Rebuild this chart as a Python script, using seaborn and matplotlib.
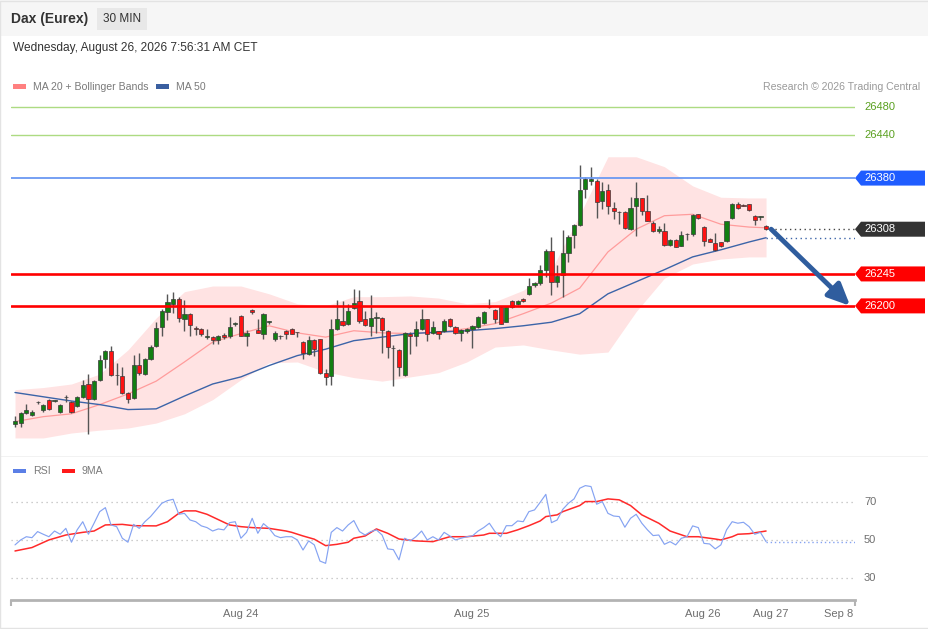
import numpy as np
import pandas as pd
import matplotlib
matplotlib.use("Agg")
import matplotlib.pyplot as plt
from matplotlib.patches import Rectangle, Polygon
import seaborn as sns

# 30 min candles, oldest first
opens = [26034, 26035, 26049, 26047, 26064, 26053, 26067, 26066, 26050, 26071,
         26065, 26059, 26072, 26090, 26069, 26095, 26125, 26136, 26102, 26101,
         26077, 26070, 26117, 26104, 26125, 26143, 26170, 26192, 26203, 26209,
         26182, 26188, 26169, 26167, 26156, 26156, 26152, 26159, 26158, 26175,
         26186, 26157, 26194, 26166, 26161, 26178, 26154, 26157, 26164, 26168,
         26163, 26149, 26132, 26152, 26153, 26105, 26101, 26167, 26179, 26174,
         26197, 26207, 26181, 26172, 26183, 26183, 26165, 26141, 26138, 26102,
         26161, 26158, 26167, 26181, 26162, 26164, 26164, 26182, 26170, 26162,
         26165, 26167, 26170, 26176, 26198, 26194, 26199, 26178, 26207, 26202,
         26210, 26217, 26229, 26232, 26251, 26278, 26234, 26243, 26274, 26300,
         26314, 26364, 26376, 26376, 26348, 26363, 26338, 26332, 26332, 26308,
         26340, 26352, 26333, 26317, 26305, 26306, 26286, 26293, 26285, 26301,
         26301, 26329, 26311, 26294, 26288, 26290, 26291, 26324, 26343, 26342,
         26343, 26327, 26325, 26313]
highs = [26045, 26050, 26062, 26053, 26066, 26062, 26069, 26067, 26062, 26074,
         26066, 26073, 26096, 26104, 26096, 26131, 26138, 26144, 26120, 26114,
         26079, 26131, 26134, 26126, 26145, 26177, 26195, 26217, 26220, 26212,
         26208, 26190, 26171, 26169, 26167, 26157, 26159, 26162, 26184, 26178,
         26187, 26166, 26196, 26181, 26190, 26179, 26164, 26159, 26166, 26169,
         26163, 26150, 26157, 26154, 26154, 26111, 26182, 26208, 26207, 26203,
         26224, 26222, 26193, 26216, 26192, 26184, 26166, 26145, 26139, 26163,
         26163, 26179, 26195, 26182, 26179, 26165, 26181, 26183, 26171, 26167,
         26169, 26173, 26186, 26193, 26210, 26195, 26200, 26200, 26208, 26208,
         26211, 26239, 26234, 26258, 26280, 26297, 26258, 26307, 26300, 26316,
         26398, 26382, 26395, 26379, 26374, 26371, 26347, 26334, 26333, 26354,
         26375, 26352, 26356, 26319, 26313, 26317, 26294, 26294, 26305, 26302,
         26330, 26330, 26313, 26295, 26302, 26290, 26320, 26345, 26347, 26343,
         26344, 26328, 26326, 26314]
lows = [26030, 26030, 26048, 26045, 26062, 26050, 26054, 26065, 26049, 26065,
        26049, 26057, 26070, 26020, 26068, 26094, 26112, 26101, 26089, 26076,
        26063, 26069, 26103, 26103, 26124, 26142, 26158, 26180, 26190, 26178,
        26164, 26158, 26159, 26157, 26153, 26147, 26146, 26153, 26155, 26171,
        26157, 26144, 26188, 26162, 26153, 26175, 26151, 26153, 26154, 26161,
        26156, 26125, 26131, 26130, 26104, 26088, 26088, 26166, 26172, 26173,
        26196, 26176, 26171, 26158, 26162, 26133, 26126, 26087, 26101, 26101,
        26132, 26144, 26166, 26151, 26161, 26154, 26163, 26170, 26161, 26151,
        26162, 26141, 26169, 26175, 26197, 26176, 26174, 26177, 26197, 26201,
        26206, 26216, 26227, 26230, 26241, 26215, 26227, 26213, 26262, 26281,
        26313, 26352, 26370, 26324, 26337, 26330, 26323, 26315, 26308, 26307,
        26298, 26328, 26319, 26304, 26302, 26285, 26285, 26283, 26284, 26293,
        26299, 26323, 26285, 26290, 26278, 26283, 26290, 26323, 26337, 26340,
        26334, 26314, 26321, 26307]
closes = [26038, 26049, 26054, 26051, 26064, 26060, 26055, 26066, 26061, 26071,
          26050, 26071, 26089, 26069, 26094, 26124, 26136, 26103, 26102, 26077,
          26069, 26117, 26105, 26125, 26142, 26169, 26193, 26205, 26209, 26183,
          26188, 26173, 26168, 26161, 26156, 26152, 26158, 26156, 26170, 26175,
          26158, 26162, 26191, 26162, 26189, 26178, 26162, 26157, 26161, 26161,
          26163, 26134, 26152, 26139, 26106, 26100, 26167, 26181, 26173, 26193,
          26204, 26179, 26173, 26183, 26183, 26166, 26142, 26140, 26114, 26162,
          26157, 26167, 26182, 26161, 26170, 26161, 26179, 26171, 26162, 26166,
          26168, 26172, 26184, 26192, 26198, 26182, 26175, 26199, 26198, 26207,
          26207, 26228, 26232, 26251, 26278, 26234, 26242, 26275, 26297, 26314,
          26363, 26379, 26379, 26347, 26362, 26340, 26334, 26332, 26310, 26338,
          26352, 26333, 26320, 26305, 26308, 26286, 26293, 26283, 26300, 26301,
          26328, 26324, 26291, 26290, 26279, 26285, 26319, 26343, 26338, 26341,
          26335, 26321, 26325, 26308]

# indicator readings, sampled at these candle numbers
band_idx = [0, 5, 10, 15, 20, 25, 30, 35, 40, 45, 50, 55, 60, 65, 70,
            75, 80, 85, 90, 95, 100, 105, 110, 115, 120, 125, 130, 133]
ma20 = [26037, 26044, 26048, 26061, 26076, 26094, 26121, 26149, 26161, 26172,
        26162, 26156, 26165, 26162, 26161, 26163, 26168, 26175, 26189, 26204,
        26225, 26276, 26308, 26327, 26329, 26315, 26311, 26310]
bb_upper = [26082, 26085, 26090, 26104, 26138, 26183, 26220, 26228, 26228, 26217,
            26203, 26200, 26213, 26213, 26214, 26211, 26203, 26206, 26222, 26251,
            26328, 26410, 26410, 26396, 26369, 26353, 26352, 26352]
bb_lower = [26014, 26014, 26021, 26025, 26028, 26035, 26048, 26068, 26096, 26120,
            26121, 26107, 26099, 26094, 26100, 26106, 26121, 26142, 26145, 26138,
            26132, 26135, 26192, 26239, 26259, 26266, 26269, 26269]
ma50 = [26078, 26072, 26066, 26061, 26054, 26055, 26073, 26090, 26100, 26116,
        26130, 26139, 26151, 26156, 26161, 26163, 26165, 26168, 26172, 26177,
        26189, 26217, 26234, 26251, 26269, 26279, 26290, 26296]

rsi = [47.4, 50.0, 51.7, 51.2, 54.4, 53.0, 51.7, 54.7, 53.0, 56.1,
       48.8, 55.3, 59.6, 53.0, 58.8, 64.9, 67.0, 57.9, 57.0, 50.9,
       48.8, 58.2, 56.1, 59.6, 62.3, 65.8, 69.3, 70.7, 71.4, 63.5,
       64.0, 60.5, 59.6, 57.4, 56.5, 54.7, 55.8, 55.3, 59.1, 59.6,
       50.9, 54.0, 61.4, 53.5, 58.6, 56.1, 52.3, 51.2, 51.7, 51.7,
       50.0, 44.7, 49.5, 47.4, 38.9, 37.7, 54.0, 56.5, 54.7, 57.9,
       60.2, 54.4, 52.6, 54.4, 55.3, 52.6, 45.3, 44.9, 39.5, 50.9,
       49.5, 51.7, 54.7, 50.0, 51.7, 50.0, 54.0, 52.1, 50.0, 50.9,
       51.7, 52.1, 54.7, 56.5, 58.8, 54.4, 51.7, 57.5, 57.5, 60.0,
       59.6, 64.9, 65.8, 69.8, 74.0, 59.1, 60.5, 66.1, 69.3, 71.6,
       77.2, 78.6, 78.1, 68.8, 70.2, 64.0, 62.6, 62.3, 56.7, 61.4,
       63.5, 58.8, 55.3, 52.3, 52.6, 47.7, 49.1, 47.4, 50.9, 51.7,
       57.4, 56.5, 48.2, 47.9, 45.3, 47.4, 55.3, 59.6, 58.8, 59.3,
       57.0, 53.0, 54.0, 49.1]
ma9_idx = [0, 3, 6, 9, 12, 14, 16, 19, 21, 25, 27, 29, 30, 32, 34, 38, 40, 42,
           45, 48, 49, 51, 53, 55, 57, 59, 60, 62, 64, 66, 68, 71, 74, 75, 77,
           80, 83, 84, 87, 89, 91, 93, 94, 96, 97, 100, 101, 103, 105, 107, 109,
           111, 114, 116, 119, 121, 124, 125, 127, 128, 130, 133]
ma9 = [44.2, 46.0, 50.0, 52.6, 54.0, 54.7, 57.9, 58.2, 57.5, 57.4, 59.6, 64.0,
       65.3, 65.3, 63.5, 57.9, 57.0, 56.5, 56.1, 54.7, 54.0, 52.1, 50.4, 47.0,
       47.7, 48.8, 50.9, 52.1, 55.8, 53.5, 50.5, 49.5, 49.1, 50.0, 51.7, 51.7,
       52.6, 53.5, 53.5, 55.3, 57.5, 60.0, 62.3, 63.2, 64.9, 68.1, 70.2, 70.2,
       71.6, 71.1, 68.1, 63.2, 58.8, 54.7, 51.7, 51.7, 50.5, 50.0, 51.7, 53.0,
       53.3, 54.7]

resistances = [26480, 26440]
pivot = 26380
supports = [26245, 26200]
last_price = 26308
rsi_levels = [70, 50, 30]
date_labels = ["Aug 24", "Aug 25", "Aug 26", "Aug 27", "Sep 8"]
date_pos = [40.0, 80.9, 121.8, 133.9, 145.9]

sns.set_theme(style="white")
plt.rcParams["font.family"] = ["Liberation Sans", "DejaVu Sans"]

W, H = 929, 629
fig = plt.figure(figsize=(W / 100, H / 100), dpi=100)
fig.patch.set_facecolor("white")


def fx(px):
    return px / W


def fy(py):
    return 1 - py / H


X0, X1 = -0.71, 148.75
n = len(opens)
idx = np.arange(n)

# ---- price panel
ax = fig.add_axes([fx(11), fy(455), fx(855) - fx(11), (455 - 95) / H])
ax.set_xlim(X0, X1)
ax.set_ylim(25990, 26497)

ax.fill_between(band_idx, bb_lower, bb_upper, color="#ffe3e3", lw=0, zorder=1)
df_ma = pd.DataFrame({"idx": band_idx, "ma20": ma20, "ma50": ma50})
sns.lineplot(data=df_ma, x="idx", y="ma20", ax=ax, color="#ff9c9c", lw=0.9, zorder=2)
sns.lineplot(data=df_ma, x="idx", y="ma50", ax=ax, color="#3c64a8", lw=1.0, zorder=3)

o = np.array(opens)
c = np.array(closes)
up = c >= o
ax.vlines(idx, lows, highs, color="#555555", lw=1.0, zorder=4)
ax.bar(idx, np.maximum(np.abs(c - o), 0.9), bottom=np.minimum(o, c), width=0.74,
       color=np.where(up, "#127f12", "#ff1212"), edgecolor="#3a3a3a",
       linewidth=0.5, zorder=5)

for lv in resistances:
    ax.axhline(lv, color="#addb82", lw=1.0, zorder=6)
ax.axhline(pivot, color="#6b99f2", lw=1.3, zorder=6)
for lv in supports:
    ax.axhline(lv, color="#ff0000", lw=1.9, zorder=6)

ax.plot([n - 0.3, X1], [last_price, last_price], color="#444444", lw=1,
        ls=(0, (1, 2.5)), zorder=6)
ax.plot([n - 1, X1], [ma50[-1], ma50[-1]], color="#3c64a8", lw=1,
        ls=(0, (1, 2.5)), zorder=6)
ax.annotate("", xy=(147.9, supports[1]), xytext=(133.9, last_price),
            arrowprops=dict(arrowstyle="-|>,head_length=1.1,head_width=0.5",
                            color="#2f5d9e", lw=3.5, shrinkA=0, shrinkB=0),
            zorder=7)
ax.axis("off")


def ypix(axis, value):
    return axis.transData.transform((0, value))[1]


def tag(price, face):
    yd = ypix(ax, price)
    pts = [(855, yd), (861, yd + 7.5), (925, yd + 7.5), (925, yd - 7.5), (861, yd - 7.5)]
    fig.patches.append(Polygon([(px / W, py / H) for px, py in pts], closed=True,
                               transform=fig.transFigure, facecolor=face,
                               edgecolor="none"))
    fig.text(864 / W, yd / H, str(price), color="white", fontsize=8, va="center")


for lv in resistances:
    fig.text(864 / W, ypix(ax, lv) / H, str(lv), color="#5aa020", fontsize=8, va="center")
tag(pivot, "#1f5cff")
tag(last_price, "#333333")
for lv in supports:
    tag(lv, "#ff0000")

# ---- RSI panel
ax2 = fig.add_axes([fx(11), fy(600), fx(855) - fx(11), (600 - 478) / H])
ax2.set_xlim(X0, X1)
ax2.set_ylim(18.4, 82.6)
for lv in rsi_levels:
    ax2.axhline(lv, color="#bdbdbd", lw=0.9, ls=(0, (1, 3)), zorder=1)
df_rsi = pd.DataFrame({"idx": idx, "rsi": rsi})
df_ma9 = pd.DataFrame({"idx": ma9_idx, "ma9": ma9})
sns.lineplot(data=df_rsi, x="idx", y="rsi", ax=ax2, color="#85a3f2", lw=0.85, zorder=3)
sns.lineplot(data=df_ma9, x="idx", y="ma9", ax=ax2, color="#ff2a2a", lw=1.1, zorder=2)
ax2.plot([n - 1, X1], [rsi[-1], rsi[-1]], color="#85a3f2", lw=1, ls=(0, (1, 2)))

for s in ["top", "left", "right"]:
    ax2.spines[s].set_visible(False)
ax2.spines["bottom"].set_color("#b3b3b3")
ax2.spines["bottom"].set_linewidth(2)
ax2.set_yticks([])
ax2.set_xticks(date_pos)
ax2.set_xticklabels(date_labels)
ax2.set_xticks([X0, X1], minor=True)
ax2.tick_params(axis="x", which="major", length=0, pad=6.5, labelsize=8, labelcolor="#6f6f6f")
ax2.tick_params(axis="x", which="minor", length=4, width=1.5, color="#b3b3b3", bottom=True)
ax2.set_xlabel("")
ax2.set_ylabel("")
ax2.set_facecolor("white")
for lv in rsi_levels:
    fig.text(864 / W, ypix(ax2, lv) / H, str(lv), color="#6f6f6f", fontsize=8, va="center")

# ---- header, legends, frame
fig.patches.append(Rectangle((0, fy(36)), 1, 36 / H, transform=fig.transFigure,
                             facecolor="#f6f6f6", edgecolor="none", zorder=0))
fig.patches.append(Rectangle((fx(97), fy(30)), fx(147) - fx(97), 22 / H,
                             transform=fig.transFigure, facecolor="#e8e8e8",
                             edgecolor="none", zorder=0))
fig.text(fx(11), fy(19), "Dax (Eurex)", fontsize=10, fontweight="bold", color="#333333", va="center")
fig.text(fx(103), fy(19), "30 MIN", fontsize=8.5, color="#333333", va="center")
fig.text(fx(13), fy(48), "Wednesday, August 26, 2026 7:56:31 AM CET", fontsize=8.6,
         color="#333333", va="center")

fig.patches.append(Rectangle((fx(13), fy(88.5)), 13 / W, 4.5 / H, transform=fig.transFigure,
                             facecolor="#ff8080", edgecolor="none"))
fig.text(fx(33), fy(86.5), "MA 20 + Bollinger Bands", fontsize=7.6, color="#7a7a7a", va="center")
fig.patches.append(Rectangle((fx(156), fy(88.5)), 13 / W, 4.5 / H, transform=fig.transFigure,
                             facecolor="#3a5fa0", edgecolor="none"))
fig.text(fx(176), fy(86.5), "MA 50", fontsize=7.6, color="#7a7a7a", va="center")
fig.text(fx(920), fy(86.5), "Research \u00a9 2026 Trading Central", fontsize=7.6,
         color="#9a9a9a", va="center", ha="right")

fig.patches.append(Rectangle((fx(13), fy(473)), 13 / W, 4.5 / H, transform=fig.transFigure,
                             facecolor="#5b7fe6", edgecolor="none"))
fig.text(fx(33), fy(471), "RSI", fontsize=7.6, color="#7a7a7a", va="center")
fig.patches.append(Rectangle((fx(62), fy(473)), 13 / W, 4.5 / H, transform=fig.transFigure,
                             facecolor="#ff1a1a", edgecolor="none"))
fig.text(fx(82), fy(471), "9MA", fontsize=7.6, color="#7a7a7a", va="center")

fig.patches.append(Rectangle((0, fy(457)), 1, 1.5 / H, transform=fig.transFigure,
                             facecolor="#f2f2f2", edgecolor="none"))
fig.patches.append(Rectangle((0.0005, 0.0008), 0.999, 0.998, transform=fig.transFigure,
                             fill=False, edgecolor="#e3e3e3", lw=1))

fig.savefig("out.png", dpi=100)
